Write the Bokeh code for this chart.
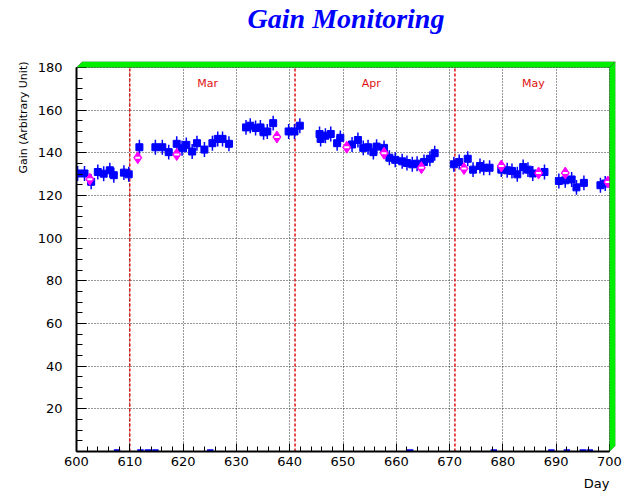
from bokeh.plotting import figure
from bokeh.models import (PolyAnnotation, SingleIntervalTicker,
                          ColumnDataSource, Range1d, Title)
from bokeh.core.properties import value
from bokeh.embed import file_html
from bokeh.resources import INLINE

# ---------------- data ----------------
blue_day = [600.2, 601.5, 602.75, 604.0, 605.1, 606.25, 607.0, 608.9, 609.8,
            611.8, 614.8, 616.1, 617.3, 618.8, 619.8, 620.6, 621.7, 622.6, 624.0,
            625.5, 626.5, 627.4, 628.6, 631.8, 632.6, 633.6, 634.5, 635.1, 635.8,
            636.9, 639.8, 640.9, 641.9, 645.6, 645.8, 646.7, 647.7, 648.9, 649.5,
            651.7, 652.8, 653.8, 654.7, 655.7, 656.3, 657.7, 658.7, 659.8, 661.1,
            662.0, 663.0, 663.9, 665.2, 666.3, 667.2, 670.8, 671.8, 673.4, 674.4,
            675.7, 676.4, 677.5, 679.7, 680.8, 681.7, 682.7, 683.8, 684.7, 685.6,
            687.8, 690.5, 691.7, 692.9, 693.8, 695.2, 698.3, 699.2]
blue_gain = [130.3, 130.3, 126.4, 131.0, 130.2, 131.8, 129.5, 130.7, 129.9,
             142.6, 142.6, 142.6, 140.3, 144.2, 142.1, 143.7, 140.6, 144.5, 141.5,
             144.5, 146.5, 146.5, 144.2, 151.9, 152.7, 151.6, 151.9, 149.6, 150.0,
             153.9, 150.0, 150.0, 152.7, 148.8, 146.5, 148.0, 148.8, 144.5, 147.0,
             143.9, 146.0, 142.3, 142.6, 140.3, 142.9, 142.3, 137.7, 136.7, 136.0,
             135.2, 134.6, 134.9, 135.7, 137.2, 139.8, 134.6, 135.7, 137.2, 132.1,
             133.8, 133.0, 133.0, 132.1, 131.8, 131.5, 129.9, 133.3, 132.1, 130.3,
             131.0, 126.8, 127.1, 127.5, 123.8, 125.9, 124.8, 125.6]

ref_day = [602.5, 611.5, 618.8, 637.6, 650.7, 657.7, 664.7, 672.7, 679.7,
           686.7, 691.7, 699.7]
ref_gain = [127.6, 137.7, 139.2, 147.4, 142.6, 139.8, 133.0, 132.6, 133.8,
            130.5, 130.5, 126.3]

zero_day = [607.6, 612.0, 613.4, 614.8, 625.1, 662.6, 678.3, 689.1, 692.0,
            695.0, 696.3]
zero_gain = [0, 0, 0, 0, 0, 0, 0, 0, 0, 0, 0]

month_bounds = [610, 641, 671]
month_names = ["Mar", "Apr", "May"]
month_pos = [624.6, 655.3, 685.7]
month_y = [172.6, 172.6, 172.6]

x_start, x_end = 600, 700
y_start, y_end = 0, 180
gain_err = 3.5
day_err = 0.6

# extra room (in data units) for the 3D bevel of the frame, ~6 px
dx = 6 / 5.33
dy = 6 / 2.1556

# ---------------- figure ----------------
p = figure(width=626, height=495,
           x_range=Range1d(x_start, x_end + dx), y_range=Range1d(y_start, y_end + dy),
           output_backend="svg", toolbar_location=None,
           min_border_left=76, min_border_right=11,
           min_border_top=60, min_border_bottom=41,
           background_fill_color="white", border_fill_color="white")

p.outline_line_color = None

# spacer between frame and title (pushes the title to the top of the canvas)
p.add_layout(Title(text=" ", text_font_size="23px", standoff=0), "above")

# titles
p.title.text = "Gain Monitoring"
p.title.align = "center"
p.title.offset = 4
p.title.standoff = 0
p.title.text_font = "Liberation Serif"
p.title.text_font_style = "bold italic"
p.title.text_font_size = "28px"
p.title.text_color = "#0000ff"

p.add_layout(Title(text="Gain (Arbitrary Unit)", align="right",
                   text_font="DejaVu Sans", text_font_size="11px",
                   text_font_style="normal", text_color="black"), "left")
p.add_layout(Title(text="Day", align="right", offset=6,
                   text_font="DejaVu Sans", text_font_size="13px",
                   text_font_style="normal", text_color="black"), "below")

# axes
p.xaxis.ticker = SingleIntervalTicker(interval=10, num_minor_ticks=5)
p.yaxis.ticker = SingleIntervalTicker(interval=20, num_minor_ticks=4)
p.xaxis.bounds = (x_start, x_end)
p.yaxis.bounds = (y_start, y_end)
p.yaxis.major_label_overrides = {0: ""}
for ax in (p.xaxis[0], p.yaxis[0]):
    ax.axis_line_color = "black"
    ax.axis_line_width = 2
    ax.major_tick_line_color = "black"
    ax.minor_tick_line_color = "black"
    ax.major_tick_out = 0
    ax.minor_tick_out = 0
    ax.major_label_text_font = "DejaVu Sans"
    ax.major_label_text_font_size = "13px"
    ax.major_label_text_color = "black"
p.xaxis.major_tick_in = 8
p.xaxis.minor_tick_in = 5
p.yaxis.major_tick_in = 10
p.yaxis.minor_tick_in = 6
p.xaxis.major_label_standoff = 5
p.yaxis.major_label_standoff = 14

# grid
p.xgrid.ticker = SingleIntervalTicker(interval=10)
p.ygrid.ticker = SingleIntervalTicker(interval=20)
for g in (p.xgrid[0], p.ygrid[0]):
    g.grid_line_color = "#333333"
    g.grid_line_dash = "1 2"
    g.grid_line_width = 1

# month boundaries
p.segment(x0=month_bounds, y0=[y_start] * 3, x1=month_bounds, y1=[y_end] * 3,
          line_color="#dd1111", line_dash="3 2", line_width=1.5)

p.text(x=month_pos, y=month_y, text=month_names, text_color="#dd1111",
       text_font=value("DejaVu Sans"), text_font_size="11px",
       text_align="center", text_baseline="middle")

# zero-valued points (only their horizontal error bars show)
p.segment(x0=[d - day_err for d in zero_day], y0=[g + 0.6 for g in zero_gain],
          x1=[d + day_err for d in zero_day], y1=[g + 0.6 for g in zero_gain],
          line_color="#0000ff", line_width=2)

# blue measurements with error bars
src = ColumnDataSource(dict(
    x=blue_day, y=blue_gain,
    ylo=[g - gain_err for g in blue_gain], yhi=[g + gain_err for g in blue_gain],
    xlo=[d - day_err for d in blue_day], xhi=[d + day_err for d in blue_day]))
p.segment(x0="x", y0="ylo", x1="x", y1="yhi", source=src,
          line_color="#0000ff", line_width=1.5)
p.segment(x0="xlo", y0="y", x1="xhi", y1="y", source=src,
          line_color="#0000ff", line_width=2)
p.scatter(x="x", y="y", source=src, marker="square", size=7,
          fill_color="#0000ff", line_color="#0000ff")

# magenta reference points
p.scatter(x=ref_day, y=ref_gain, marker="diamond", size=12,
          fill_color="#ff00ff", line_color="#ff00ff", line_width=1)
p.scatter(x=ref_day, y=ref_gain, marker="dash", size=5,
          line_color="white", line_width=2)

# 3D frame bevel (green) on top and right
p.add_layout(PolyAnnotation(
    xs=[x_start, x_end, x_end + dx, x_start + dx],
    ys=[y_end, y_end, y_end + dy, y_end + dy],
    fill_color="#00ee00", fill_alpha=1, line_color="black", line_width=1))
p.add_layout(PolyAnnotation(
    xs=[x_end, x_end + dx, x_end + dx, x_end],
    ys=[y_start, y_start + dy, y_end + dy, y_end],
    fill_color="#00ee00", fill_alpha=1, line_color="black", line_width=1))

open("out.html", "w").write(file_html(p, INLINE))
